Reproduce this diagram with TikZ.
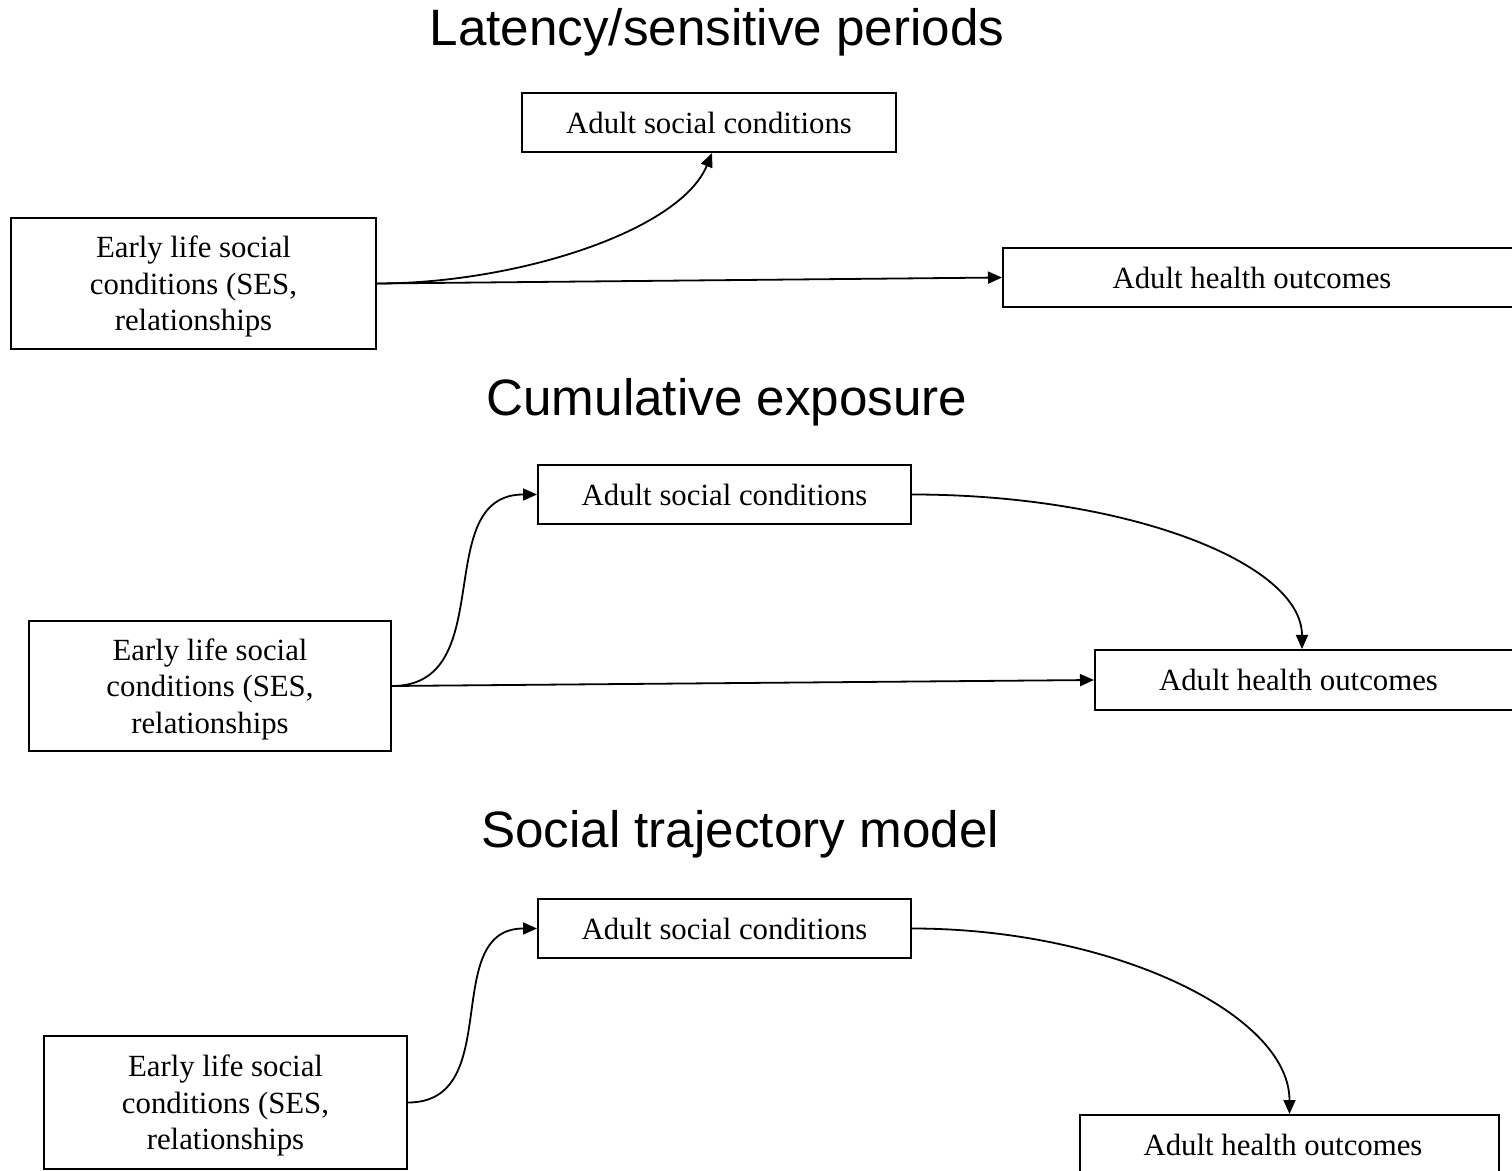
\documentclass[tikz,border=0pt]{standalone}
\usepackage{fontspec}
\setmainfont{Liberation Serif}
\newfontfamily\headfont{Liberation Sans}
\usetikzlibrary{arrows.meta}
\begin{document}
\begin{tikzpicture}[x=0.5pt,y=-0.5pt,
  box/.style={draw, line width=1pt, inner sep=0pt, align=center, text depth=0pt,
    font=\fontsize{15.4pt}{18.25pt}\selectfont},
  head/.style={font=\headfont\fontsize{25.6pt}{30pt}\selectfont, anchor=base, inner sep=0pt},
  link/.style={line width=0.9pt, -{Triangle[length=7pt,width=6pt]}}]
\useasboundingbox (0,0) rectangle (1512,1171);
\clip (0,0) rectangle (1512,1171);

% Latency / sensitive periods
\node[head] (t1) at (717,46) {Latency/sensitive periods};
\node[box, minimum width=182.5pt, minimum height=65.5pt] (early1) at (193.5,283.5)
  {Early life social\\conditions (SES,\\relationships};
\node[box, minimum width=187pt, minimum height=29.5pt] (social1) at (709,122.5)
  {Adult social conditions};
\node[box, minimum width=261pt, minimum height=29.5pt] (health1) at (1264,277.5)
  {Adult health outcomes\hspace*{12pt}};
\draw[link] (early1.east) .. controls +(140,0) and +(-32,78) .. ([xshift=1.5pt]social1.south);
\draw[link] (early1.east) -- (health1.west);

% Cumulative exposure
\node[head] (t2) at (727,416) {Cumulative exposure};
\node[box, minimum width=181pt, minimum height=65pt] (early2) at (210,686)
  {Early life social\\conditions (SES,\\relationships};
\node[box, minimum width=186.5pt, minimum height=29.5pt] (social2) at (724.5,494.5)
  {Adult social conditions};
\node[box, minimum width=215pt, minimum height=30pt] (health2) at (1310,680)
  {Adult health outcomes\hspace*{11.5pt}};
\draw[link] (early2.east) .. controls +(109,0) and +(-108,0) .. (social2.west);
\draw[link] (early2.east) -- (health2.west);
\draw[link] (social2.east) .. controls +(215,0) and +(0,-86) .. ([xshift=-4pt]health2.north);

% Social trajectory model
\node[head] (t3) at (740,848) {Social trajectory model};
\node[box, minimum width=181.5pt, minimum height=66.5pt] (early3) at (225.5,1102.5)
  {Early life social\\conditions (SES,\\relationships};
\node[box, minimum width=186.5pt, minimum height=29.5pt] (social3) at (724.5,928.5)
  {Adult social conditions};
\node[box, minimum width=209.5pt, minimum height=30pt] (health3) at (1289.5,1145)
  {Adult health outcomes\hspace*{6.5pt}};
\draw[link] (early3.east) .. controls +(98,0) and +(-98,0) .. (social3.west);
\draw[link] (social3.east) .. controls +(200,0) and +(0,-100) .. (health3.north);
\end{tikzpicture}
\end{document}
